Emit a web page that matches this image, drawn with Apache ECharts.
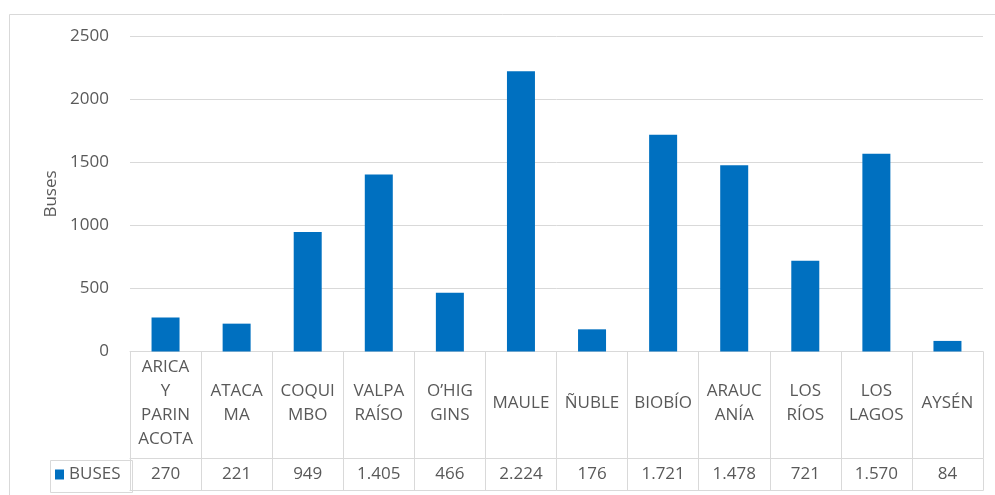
<!DOCTYPE html>
<html>
<head>
<meta charset="utf-8">
<style>
  html, body { margin: 0; padding: 0; background: #ffffff; }
  #chart { width: 995px; height: 495px; }
</style>
<script src="https://cdn.jsdelivr.net/npm/echarts@6/dist/echarts.min.js"></script>
</head>
<body>
<div id="chart"></div>
<script>
// ---- data ----
const categories = ['ARICA\nY\nPARIN\nACOTA', 'ATACA\nMA', 'COQUI\nMBO', 'VALPA\nRAÍSO', 'O’HIG\nGINS', 'MAULE', 'ÑUBLE', 'BIOBÍO', 'ARAUC\nANÍA', 'LOS\nRÍOS', 'LOS\nLAGOS', 'AYSÉN'];
const busValues = [270, 221, 949, 1405, 466, 2224, 176, 1721, 1478, 721, 1570, 84];
const seriesName = 'BUSES';
const yAxisName = 'Buses';
const yTicks = { min: 0, max: 2500, interval: 500 };

function fmtThousands(v) {
  return String(v).replace(/\B(?=(\d{3})+(?!\d))/g, '.');
}

const FONT = 'Open Sans';
const TXT = '#595959';
const LINE = '#d9d9d9';

const chart = echarts.init(document.getElementById('chart'), null, { renderer: 'canvas' });
chart.setOption({
  backgroundColor: '#ffffff',
  animation: false,
  textStyle: { fontFamily: FONT },
  grid: { left: 130, right: 12, top: 36.5, bottom: 143.5, containLabel: false },
  legend: {
    data: [seriesName],
    left: 55, top: 466, padding: 0,
    icon: 'rect', itemWidth: 9, itemHeight: 10, itemGap: 8,
    textStyle: { fontFamily: FONT, fontSize: 17, color: TXT }
  },
  xAxis: [
    {
      type: 'category', position: 'bottom', data: categories,
      axisLine: { show: true, lineStyle: { color: LINE, width: 1 } },
      axisTick: { show: true, length: 107, interval: 0, lineStyle: { color: LINE } },
      axisLabel: { interval: 0, margin: 52, verticalAlign: 'middle', lineHeight: 24,
        fontFamily: FONT, fontSize: 17, color: TXT, align: 'center' },
      splitLine: { show: false }
    },
    {
      type: 'category', position: 'bottom', offset: 107, data: categories,
      axisLine: { show: true, lineStyle: { color: LINE, width: 1 } },
      axisTick: { show: true, length: 32, interval: 0, lineStyle: { color: LINE } },
      axisLabel: { interval: 0, margin: 16, verticalAlign: 'middle',
        fontFamily: FONT, fontSize: 17, color: TXT,
        formatter: function (v, i) { return fmtThousands(busValues[i]); } },
      splitLine: { show: false }
    },
    {
      type: 'category', position: 'bottom', offset: 139, data: categories,
      axisLine: { show: true, lineStyle: { color: LINE, width: 1 } },
      axisTick: { show: false }, axisLabel: { show: false }, splitLine: { show: false }
    }
  ],
  yAxis: {
    type: 'value', min: yTicks.min, max: yTicks.max, interval: yTicks.interval,
    name: yAxisName, nameLocation: 'middle', nameGap: 68, nameRotate: 90,
    nameTextStyle: { fontFamily: FONT, fontSize: 17, color: TXT },
    axisLine: { show: false }, axisTick: { show: false },
    axisLabel: { margin: 21, fontFamily: FONT, fontSize: 17, color: TXT,
      formatter: function (v) { return String(v); } },
    splitLine: { show: true, lineStyle: { color: LINE, width: 1 } }
  },
  series: [{
    name: seriesName, type: 'bar', xAxisIndex: 0, data: busValues,
    barWidth: 28, itemStyle: { color: '#0070C0' }
  }],
  graphic: [
    { type: 'rect', left: 7, top: 12, shape: { width: 1000, height: 500 }, silent: true,
      style: { fill: 'none', stroke: LINE, lineWidth: 1 } },
    { type: 'rect', left: 48, top: 458, shape: { width: 82, height: 32 }, silent: true,
      style: { fill: 'none', stroke: LINE, lineWidth: 1 } }
  ]
});
</script>
</body>
</html>
